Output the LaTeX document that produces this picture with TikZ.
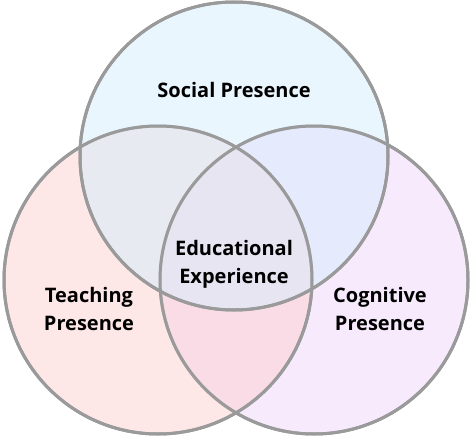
\documentclass[tikz,border=0pt]{standalone}
\usepackage{fontspec}
\setmainfont{Open Sans}
\usepackage{tikz}
\usetikzlibrary{positioning}
\definecolor{cSocial}{RGB}{213,237,253}
\definecolor{cTeach}{RGB}{251,207,207}
\definecolor{cCogn}{RGB}{239,213,250}
\definecolor{cRim}{RGB}{154,154,154}

\begin{document}
\begin{tikzpicture}[x=1pt, y=-1pt,
  ring/.style={circle, draw=cRim, line width=3pt, minimum size=308pt, inner sep=0pt, fill opacity=0.5},
  lbl/.style={font=\fontsize{20}{28}\selectfont\bfseries, align=center, text=black}]
  \useasboundingbox (0,0) rectangle (474,439);
  % the three presences
  \node[ring, fill=cCogn] (cogn) at (314,280) {};
  \node[ring, fill=cTeach] (teach) at (158,280) {};
  \node[ring, fill=cSocial] (social) at (234,156) {};
  % outlines on top
  \foreach \c in {cogn,teach,social}
    \draw[cRim, line width=3pt] (\c) circle (154pt);
  \node[lbl] (tSocial) at (234,90) {Social Presence};
  \node[lbl] (tEdu) at (234,264) {Educational\\Experience};
  \node[lbl] (tTeach) at (89,309) {Teaching\\Presence};
  \node[lbl] (tCogn) at (380,309) {Cognitive\\Presence};
\end{tikzpicture}
\end{document}
